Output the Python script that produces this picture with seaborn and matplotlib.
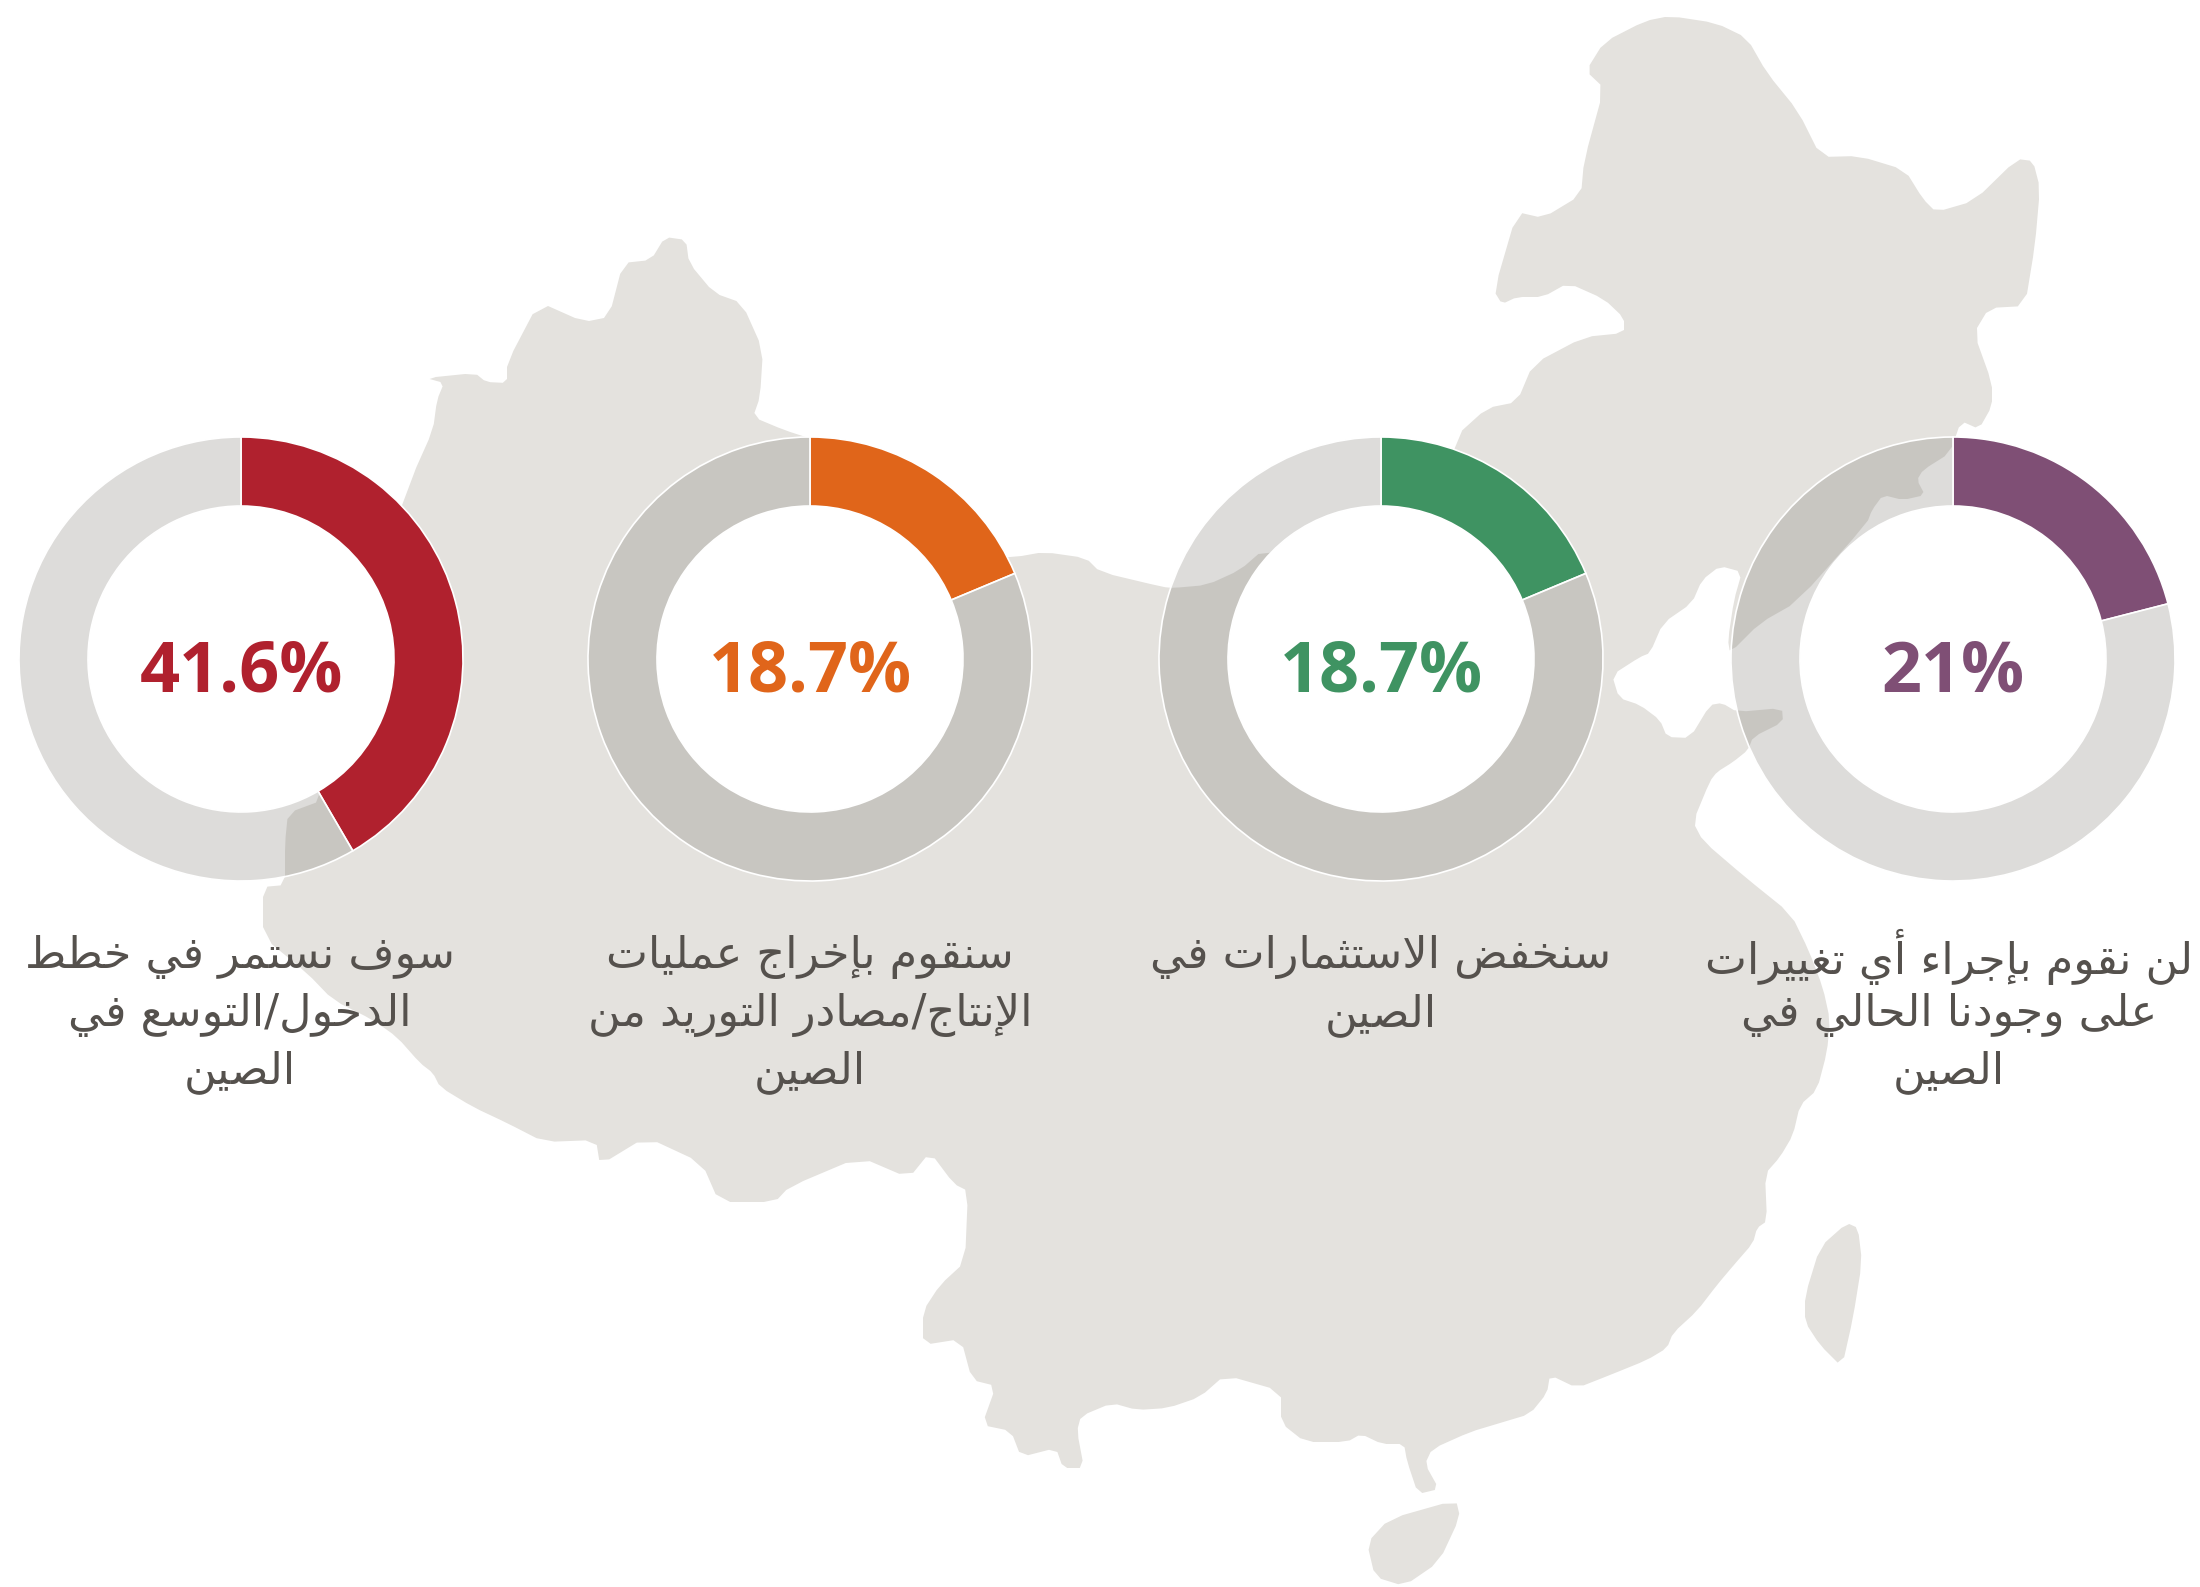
import matplotlib
matplotlib.use("Agg")
import matplotlib.pyplot as plt
from matplotlib.patches import Circle
import seaborn as sns

# ---- data ----
values = [41.6, 18.7, 18.7, 21.0]
value_labels = ["41.6%", "18.7%", "18.7%", "21%"]
series_colors = ["#B0212E", "#E0651A", "#3F9362", "#7F4F75"]
captions = [
    ["سوف نستمر في خطط", "الدخول/التوسع في", "الصين"],
    ["سنقوم بإخراج عمليات", "الإنتاج/مصادر التوريد من", "الصين"],
    ["سنخفض الاستثمارات في", "الصين"],
    ["لن نقوم بإجراء أي تغييرات", "على وجودنا الحالي في", "الصين"],
]

# ---- decorative background map, traced in image pixels ----
china_mainland = [
    (1670,16),(1716,23),(1747,38),(1767,73),(1798,111),(1821,157),(1859,156),(1905,170),
    (1923,199),(1936,212),(1974,201),(2017,159),(2033,161),(2040,188),(2035,245),(2025,306),
    (1989,308),(1974,333),(1992,383),(1992,406),(1979,429),(1961,421),(1950,453),(1923,470),
    (1917,480),(1925,495),(1903,500),(1883,495),(1872,510),(1867,523),(1797,602),(1760,623),
    (1730,653),(1728,640),(1734,600),(1742,572),(1720,566),(1702,580),(1692,603),(1663,623),
    (1650,653),(1640,657),(1612,675),(1619,698),(1640,705),(1660,720),(1667,737),(1690,738),
    (1710,705),(1722,703),(1737,712),(1782,708),(1783,722),(1753,737),(1748,750),(1733,762),
    (1717,772),(1710,781),(1693,822),(1703,841),
    (1745,877),(1791,914),(1809,951),(1823,988),(1830,1020),(1827,1052),(1817,1090),(1800,1105),
    (1793,1135),(1780,1157),(1765,1174),(1767,1221),(1757,1228),(1753,1243),(1733,1266),
    (1717,1285),(1697,1311),(1673,1333),(1667,1348),(1647,1360),(1610,1375),(1577,1388),
    (1550,1375),(1547,1393),(1530,1414),(1500,1423),(1470,1432),(1432,1449),(1425,1464),
    (1439,1489),(1418,1494),(1407,1461),(1404,1444),(1382,1444),(1361,1434),(1347,1442),
    (1305,1442),(1281,1423),(1281,1391),(1225,1375),(1200,1397),(1168,1408),(1137,1410),
    (1112,1403),(1081,1416),(1077,1431),(1084,1468),(1063,1468),(1056,1448),(1021,1457),
    (1011,1431),(982,1425),(996,1386),(972,1380),(961,1339),(923,1345),(923,1311),(940,1285),
    (965,1262),(968,1191),(954,1184),(930,1152),(909,1178),(860,1157),(789,1187),(775,1202),
    (719,1202),(702,1163),(646,1137),(600,1165),(596,1140),(544,1142),(507,1123),(473,1107),
    (440,1087),(433,1073),(420,1063),(397,1037),(373,1020),(333,1000),(307,973),(263,937),
    (263,887),(285,885),(285,843),(288,813),(323,800),(350,650),(412,477),(433,430),(437,400),
    (444,383),(426,378),(475,373),(486,382),
    (507,383),(507,363),(539,302),(584,322),(609,317),(623,263),(651,260),(665,237),(686,240),
    (689,263),(714,293),(742,303),(763,350),(760,397),(753,417),(784,430),(815,440),(830,500),
    (950,560),(1016,557),(1044,552),(1086,558),(1100,572),(1163,587),(1173,588),(1207,585),
    (1240,570),(1263,550),(1330,560),
    (1440,520),(1456,436),(1487,408),(1517,402),(1533,364),(1584,337),(1624,333),(1624,318),
    (1604,299),(1568,283),(1543,297),(1517,297),(1502,304),(1494,291),(1517,212),(1543,218),
    (1581,195),(1584,161),(1604,88),(1586,71),(1604,42),(1645,21),
]
taiwan = [(1847,1223),(1858,1228),(1862,1262),(1853,1318),(1842,1367),(1820,1345),(1805,1322),(1805,1296),(1820,1247)]
hainan = [(1456,1500),(1389,1519),(1367,1543),(1375,1577),(1404,1586),(1439,1562),(1460,1517)]

# ---- layout ----
W, H = 2200, 1587
centers_x = [241, 810, 1381, 1953]
center_y = 659
r_outer, r_inner = 222, 153
pct_baseline = 692
caption_x_shift = [-1, 0, 0, -4]
caption_y = [957, 1015, 1072]
LAND = "#E4E2DE"
RING = (120/255, 117/255, 110/255, 0.25)
TEXT = "#55514D"

def rounded(pts, t=0.2):
    """Soften the traced silhouette's corners (one corner-cutting pass)."""
    out = []
    for i, (x0, y0) in enumerate(pts):
        x1, y1 = pts[(i + 1) % len(pts)]
        out.append((x0 + t*(x1-x0), y0 + t*(y1-y0)))
        out.append((x1 - t*(x1-x0), y1 - t*(y1-y0)))
    return out

# ---- minimal Arabic shaping (matplotlib does not shape or reorder) ----
_forms = {"ء":(0xFE80,1),"آ":(0xFE81,2),"أ":(0xFE83,2),"ؤ":(0xFE85,2),"إ":(0xFE87,2),"ئ":(0xFE89,4),
          "ا":(0xFE8D,2),"ب":(0xFE8F,4),"ة":(0xFE93,2),"ت":(0xFE95,4),"ث":(0xFE99,4),"ج":(0xFE9D,4),
          "ح":(0xFEA1,4),"خ":(0xFEA5,4),"د":(0xFEA9,2),"ذ":(0xFEAB,2),"ر":(0xFEAD,2),"ز":(0xFEAF,2),
          "س":(0xFEB1,4),"ش":(0xFEB5,4),"ص":(0xFEB9,4),"ض":(0xFEBD,4),"ط":(0xFEC1,4),"ظ":(0xFEC5,4),
          "ع":(0xFEC9,4),"غ":(0xFECD,4),"ف":(0xFED1,4),"ق":(0xFED5,4),"ك":(0xFED9,4),"ل":(0xFEDD,4),
          "م":(0xFEE1,4),"ن":(0xFEE5,4),"ه":(0xFEE9,4),"و":(0xFEED,2),"ى":(0xFEEF,2),"ي":(0xFEF1,4)}
_lam_alef = {"آ":0xFEF5,"أ":0xFEF7,"إ":0xFEF9,"ا":0xFEFB}

def shape(s):
    out = []
    i = 0
    n = len(s)
    prev_joins = False
    while i < n:
        c = s[i]
        if c not in _forms:
            out.append(c); prev_joins = False; i += 1; continue
        if c == "ل" and i + 1 < n and s[i+1] in _lam_alef:
            out.append(chr(_lam_alef[s[i+1]] + (1 if prev_joins else 0)))
            prev_joins = False; i += 2; continue
        base, count = _forms[c]
        next_c = s[i+1] if i + 1 < n else ""
        next_joins = count == 4 and next_c in _forms and next_c != "ء"
        if count == 1:
            form = 0
        elif count == 2:
            form = 1 if prev_joins else 0
        else:
            form = {(False,False):0,(True,False):1,(False,True):2,(True,True):3}[(prev_joins,next_joins)]
        out.append(chr(base + form))
        prev_joins = count == 4
        i += 1
    return "".join(reversed(out))

sns.set_theme(style="white")
plt.rcParams["font.family"] = ["DejaVu Sans"]
palette = sns.color_palette(series_colors)

fig = plt.figure(figsize=(W/100, H/100), dpi=100, facecolor="white")
ax = fig.add_axes([0, 0, 1, 1])

for shp in (china_mainland, taiwan, hainan):
    sm = rounded(shp)
    ax.fill([p[0] for p in sm], [H - p[1] for p in sm], color=LAND, lw=0, zorder=1)

for v, lab, col, cx, cap, dx in zip(values, value_labels, palette, centers_x, captions, caption_x_shift):
    wedges, _ = ax.pie([v, 100 - v], colors=[col, RING], startangle=90, counterclock=False,
                       center=(cx, H - center_y), radius=r_outer, frame=True,
                       wedgeprops=dict(width=r_outer - r_inner, edgecolor="white", linewidth=1.2))
    for w in wedges:
        w.set_zorder(2)
    ax.add_patch(Circle((cx, H - center_y), r_inner, fc="white", ec="none", zorder=3))
    ax.text(cx, H - pct_baseline, lab, color=col, ha="center", va="baseline", zorder=4,
            fontsize=50.5, fontweight="bold", family="Open Sans")
    for line, yy in zip(cap, caption_y):
        ax.text(cx + dx, H - yy, shape(line), color=TEXT, ha="center", va="center", zorder=4,
                fontsize=32, family="DejaVu Sans")

ax.set_xlim(0, W)
ax.set_ylim(0, H)
ax.set_aspect("auto")
ax.axis("off")
sns.despine(ax=ax, left=True, bottom=True)
fig.savefig("out.png", dpi=100, facecolor="white")
